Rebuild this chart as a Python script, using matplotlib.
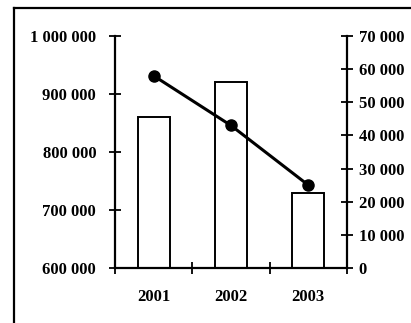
import matplotlib
matplotlib.use("Agg")

import matplotlib.pyplot as plt
from matplotlib.lines import Line2D
from matplotlib.ticker import FixedLocator, FuncFormatter

# Data
years = ["2001", "2002", "2003"]
bar_values = [860000, 920000, 730000]
line_values = [58000, 43000, 25000]

left_ticks = [600000, 700000, 800000, 900000, 1000000]
right_ticks = [0, 10000, 20000, 30000, 40000, 50000, 60000, 70000]

FONT = "Liberation Serif"
FS = 12


def spaced(v, pos=None):
    return f"{int(v):,}".replace(",", " ")


fig = plt.figure(figsize=(4.11, 3.23), dpi=100)
ax = fig.add_axes([0.2798, 0.1703, 0.5645, 0.7182])

x = list(range(len(years)))

# bars on the left axis
ax.bar(x, bar_values, width=0.41, bottom=0, color="white",
       edgecolor="black", linewidth=1.4, zorder=2)
ax.set_ylim(600000, 1000000)
ax.set_xlim(-0.5, 2.5)

ax.spines["top"].set_visible(False)
ax.spines["right"].set_visible(False)
for s in ("left", "bottom"):
    ax.spines[s].set_linewidth(1.6)

ax.set_yticks(left_ticks)
ax.yaxis.set_major_formatter(FuncFormatter(spaced))
ax.tick_params(axis="y", direction="inout", length=9, width=1.3, pad=9)

ax.set_xticks(x)
ax.set_xticklabels(years)
ax.xaxis.set_minor_locator(FixedLocator([-0.5, 0.5, 1.5, 2.5]))
ax.tick_params(axis="x", which="major", length=0, pad=15)
ax.tick_params(axis="x", which="minor", direction="inout", length=9, width=1.3)

# line on the right axis
ax2 = ax.twinx()
ax2.plot(x, line_values, color="black", linewidth=2.2, marker="o",
         markersize=8, zorder=3)
ax2.set_ylim(0, 70000)
ax2.spines["top"].set_visible(False)
ax2.spines["left"].set_visible(False)
ax2.spines["bottom"].set_visible(False)
ax2.spines["right"].set_linewidth(1.6)
ax2.set_yticks(right_ticks)
ax2.yaxis.set_major_formatter(FuncFormatter(spaced))
ax2.tick_params(axis="y", direction="inout", length=9, width=1.3, pad=4)

for lab in ax.get_yticklabels() + ax.get_xticklabels() + ax2.get_yticklabels():
    lab.set_fontfamily(FONT)
    lab.set_fontsize(FS)
    lab.set_fontweight("bold")

# outer frame, cut at right and bottom
fig.add_artist(Line2D([14 / 411, 1], [1 - 8 / 323, 1 - 8 / 323],
                      transform=fig.transFigure, color="black", linewidth=1.6))
fig.add_artist(Line2D([14 / 411, 14 / 411], [0, 1 - 8 / 323],
                      transform=fig.transFigure, color="black", linewidth=1.6))

fig.savefig("out.png", dpi=100)
plt.close(fig)
